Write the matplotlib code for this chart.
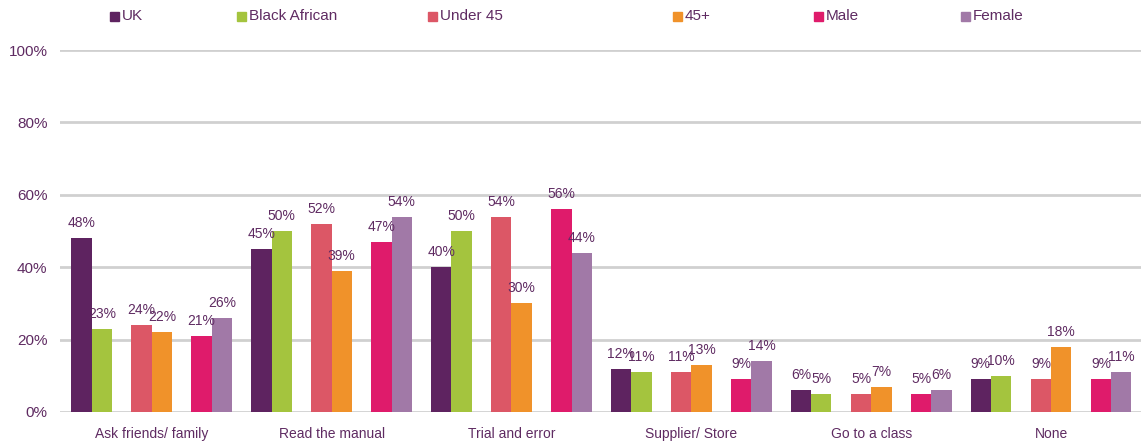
import matplotlib.pyplot as plt
import matplotlib.patches as mpatches
import numpy as np

plt.rcParams['font.family'] = ['Liberation Sans', 'DejaVu Sans']

# ---------DATA---------
categories = ["Ask friends/ family", "Read the manual", "Trial and error",
              "Supplier/ Store", "Go to a class", "None"]
series_names = ["UK", "Black African", "Under 45", "45+", "Male", "Female"]
uk = [48, 45, 40, 12, 6, 9]
black_african = [23, 50, 50, 11, 5, 10]
under_45 = [24, 52, 54, 11, 5, 9]
over_45 = [22, 39, 30, 13, 7, 18]
male = [21, 47, 56, 9, 5, 9]
female = [26, 54, 44, 14, 6, 11]

colors = ["#5e2360", "#a4c43e", "#dc5766", "#f0922a", "#df1b6b", "#a179a7"]
text_col = "#5f2b62"

series = [uk, black_african, under_45, over_45, male, female]

# ---------PLOT---------
fig = plt.figure(figsize=(11.41, 4.43), dpi=100)
ax = fig.add_axes([0.0526, 0.070, 0.9474, 0.817])

x = np.arange(len(categories))
width = 0.113
pair_off = 0.334
offsets = [-pair_off - width / 2, -pair_off + width / 2,
           -width / 2, width / 2,
           pair_off - width / 2, pair_off + width / 2]

for vals, off, col in zip(series, offsets, colors):
    ax.bar(x + off, vals, width, color=col, zorder=3)
    for xi, v in zip(x, vals):
        ax.text(xi + off, v + 2.2, f"{v}%", ha="center", va="bottom",
                fontsize=10, color=text_col, zorder=4)

ax.set_xlim(-0.51, 5.5)
ax.set_ylim(0, 100)
ax.set_yticks(np.arange(0, 101, 20))
ax.set_yticklabels([f"{t}%" for t in range(0, 101, 20)])
ax.set_xticks(x)
ax.set_xticklabels(categories)
ax.tick_params(axis="both", length=0, colors=text_col)
ax.tick_params(axis="x", pad=11, labelsize=10)
ax.tick_params(axis="y", pad=9, labelsize=11)
ax.yaxis.grid(True, color="#d0d0d0", linewidth=2, zorder=0)
for s in ax.spines.values():
    s.set_visible(False)

# legend entries, placed by hand like the original
leg_x = [110, 237, 428, 673, 814, 961]
W, H = 1141, 443
for lx, name, col in zip(leg_x, series_names, colors):
    fig.patches.append(mpatches.Rectangle((lx / W, 1 - 21 / H), 9 / W, 9 / H,
                                          transform=fig.transFigure,
                                          color=col, figure=fig))
    fig.text((lx + 12) / W, 1 - 16.5 / H, name, ha="left", va="center",
             fontsize=11, color=text_col)

fig.savefig("out.png", dpi=100)
